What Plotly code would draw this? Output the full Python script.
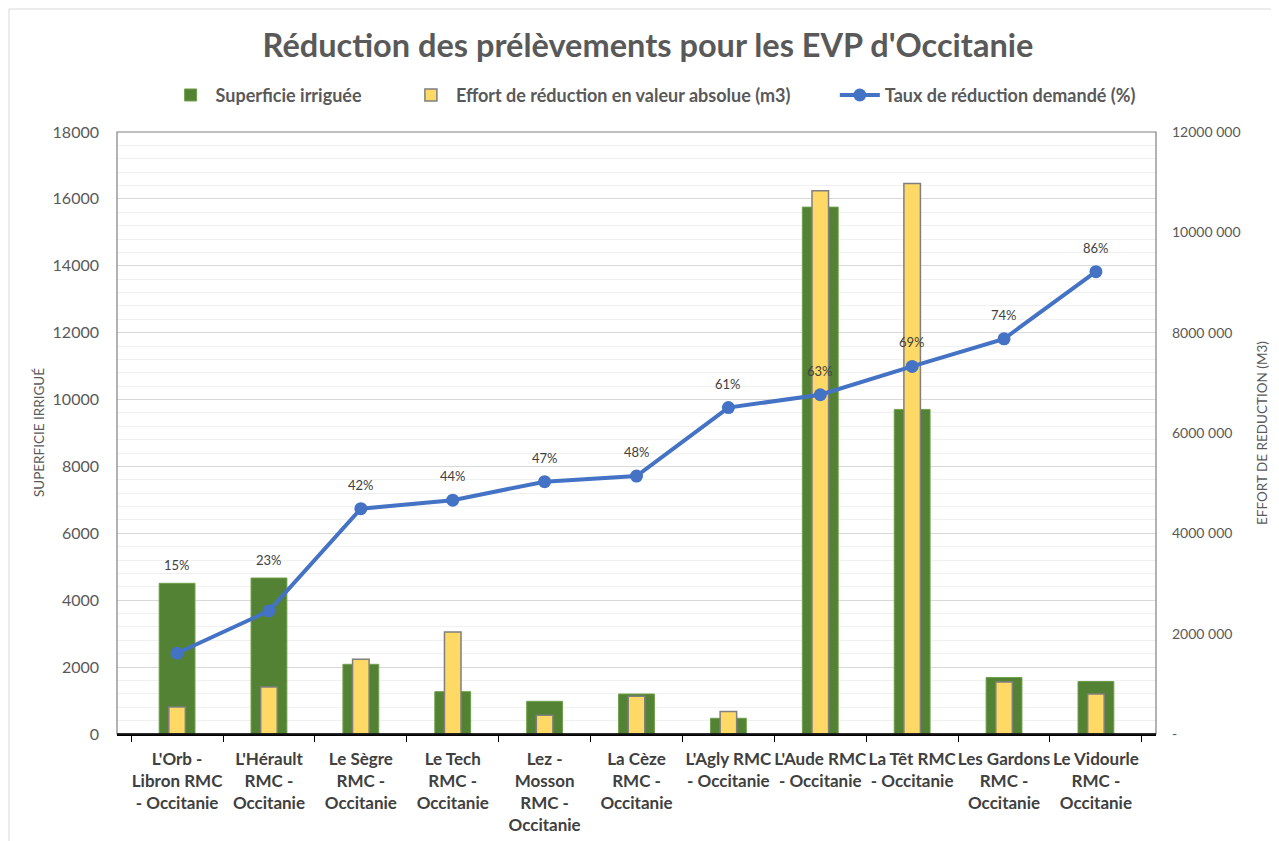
import plotly.graph_objects as go

categories = [
    "L'Orb -<br>Libron RMC<br>- Occitanie",
    "L'Hérault<br>RMC -<br>Occitanie",
    "Le Sègre<br>RMC -<br>Occitanie",
    "Le Tech<br>RMC -<br>Occitanie",
    "Lez -<br>Mosson<br>RMC -<br>Occitanie",
    "La Cèze<br>RMC -<br>Occitanie",
    "L'Agly RMC<br>- Occitanie",
    "L'Aude RMC<br>- Occitanie",
    "La Têt RMC<br>- Occitanie",
    "Les Gardons<br>RMC -<br>Occitanie",
    "Le Vidourle<br>RMC -<br>Occitanie",
]
superficie = [4506, 4664, 2084, 1266, 977, 1196, 470, 15754, 9705, 1690, 1570]
effort = [538000, 937000, 1489000, 2033000, 372000, 751000, 450000, 10830000, 10975000, 1037000, 798000]
taux = [0.151, 0.23, 0.421, 0.437, 0.4715, 0.482, 0.61, 0.634, 0.687, 0.7385, 0.864]

left_ticks = [0, 2000, 4000, 6000, 8000, 10000, 12000, 14000, 16000, 18000]
right_tickvals = [0, 2000000, 4000000, 6000000, 8000000, 10000000, 12000000]
right_ticktext = ["-", "2000 000", "4000 000", "6000 000", "8000 000", "10000 000", "12000 000"]

FONT = "Lato"
GREY = "#595959"

W, H = 1263, 833
ML, MT = 109, 124
PW, PH = 1039, 602

PAD = "\u00a0" * 9

fig = go.Figure()
fig.add_trace(go.Bar(
    x=categories, y=superficie, name="Superficie irriguée" + PAD,
    marker=dict(color="#548235", line=dict(color="#6fa04a", width=1)),
    width=0.39, yaxis="y",
))
fig.add_trace(go.Bar(
    x=categories, y=effort, name="Effort de réduction en valeur absolue (m3)" + PAD,
    marker=dict(color="#FFD966", line=dict(color="#7f7f7f", width=1.5)),
    width=0.18, yaxis="y2",
))
fig.add_trace(go.Scatter(
    x=categories, y=taux, name="Taux de réduction demandé (%)",
    mode="lines+markers", yaxis="y3",
    line=dict(color="#4472C4", width=4),
    marker=dict(color="#4472C4", size=13),
))

annotations = []
for i, (c, t) in enumerate(zip(categories, taux)):
    label = f"{round(t * 100):d}%"
    if i < 2:
        annotations.append(dict(x=c, y=superficie[i], yref="y", xref="x", text=label,
                                showarrow=False, yshift=8, yanchor="bottom",
                                font=dict(family=FONT, size=13, color="#404040")))
    else:
        annotations.append(dict(x=c, y=t, yref="y3", xref="x", text=label,
                                showarrow=False, yshift=14, yanchor="bottom",
                                font=dict(family=FONT, size=13, color="#404040")))

annotations.append(dict(xref="paper", yref="paper", x=-0.075, y=0.5, text="SUPERFICIE IRRIGUÉ",
                        xanchor="center", yanchor="middle",
                        textangle=-90, showarrow=False, font=dict(family=FONT, size=13.5, color=GREY)))
annotations.append(dict(xref="paper", yref="paper", x=1.102, y=0.5, text="EFFORT DE REDUCTION (M3)",
                        xanchor="center", yanchor="middle",
                        textangle=-90, showarrow=False, font=dict(family=FONT, size=13.5, color=GREY)))

fig.update_layout(
    width=W, height=H,
    margin=dict(l=ML, r=W - ML - PW, t=MT, b=H - MT - PH, autoexpand=False),
    paper_bgcolor="white", plot_bgcolor="white",
    barmode="overlay",
    font=dict(family=FONT, color=GREY),
    title=dict(text="<b>Réduction des prélèvements pour les EVP d'Occitanie</b>",
               x=640 / W, xanchor="center", y=1 - 38 / H, yanchor="middle",
               font=dict(family=FONT, size=32.5, color=GREY)),
    legend=dict(orientation="h", x=0.516, xanchor="center", y=1.061, yanchor="middle",
                font=dict(family=FONT, size=18, color=GREY, weight="bold"), traceorder="normal",
                itemwidth=40, bgcolor="rgba(0,0,0,0)"),
    xaxis=dict(type="category", showline=True, linecolor="#000000", linewidth=1.5,
               ticks="outside", tickson="boundaries", ticklen=6, tickcolor="#000000",
               tickangle=0, automargin=False, ticklabelstandoff=9,
               tickfont=dict(family=FONT, size=17, color="#404040", weight="bold"),
               showgrid=False),
    yaxis=dict(range=[0, 18000], tickvals=left_ticks, tickformat="d",
               showgrid=True, gridcolor="#d9d9d9", gridwidth=1,
               minor=dict(dtick=400, showgrid=True, gridcolor="#f0f0f0", gridwidth=1),
               showline=False, zeroline=False, ticklabelstandoff=17, automargin=False,
               tickfont=dict(family=FONT, size=16, color=GREY)),
    yaxis2=dict(range=[0, 12000000], overlaying="y", side="right",
                tickvals=right_tickvals, ticktext=right_ticktext, automargin=False,
                showgrid=False, zeroline=False, showline=False, ticklabelstandoff=15,
                tickfont=dict(family=FONT, size=14, color=GREY)),
    yaxis3=dict(range=[0, 1.125], overlaying="y", visible=False),
    annotations=annotations,
    shapes=[
        dict(type="rect", xref="paper", yref="paper", x0=0, x1=1, y0=0, y1=1,
             line=dict(color="#808080", width=1.2), layer="above"),
        dict(type="line", xref="paper", yref="paper", x0=0, x1=1, y0=0, y1=0,
             line=dict(color="#000000", width=1.5), layer="above"),
        dict(type="line", xref="paper", yref="paper", x0=-0.104, x1=1.2, y0=1.2043, y1=1.2043,
             line=dict(color="#d9d9d9", width=1)),
        dict(type="line", xref="paper", yref="paper", x0=-0.104, x1=-0.104, y0=-0.2, y1=1.2043,
             line=dict(color="#d9d9d9", width=1)),
    ],
)

fig.write_html("out.html")
